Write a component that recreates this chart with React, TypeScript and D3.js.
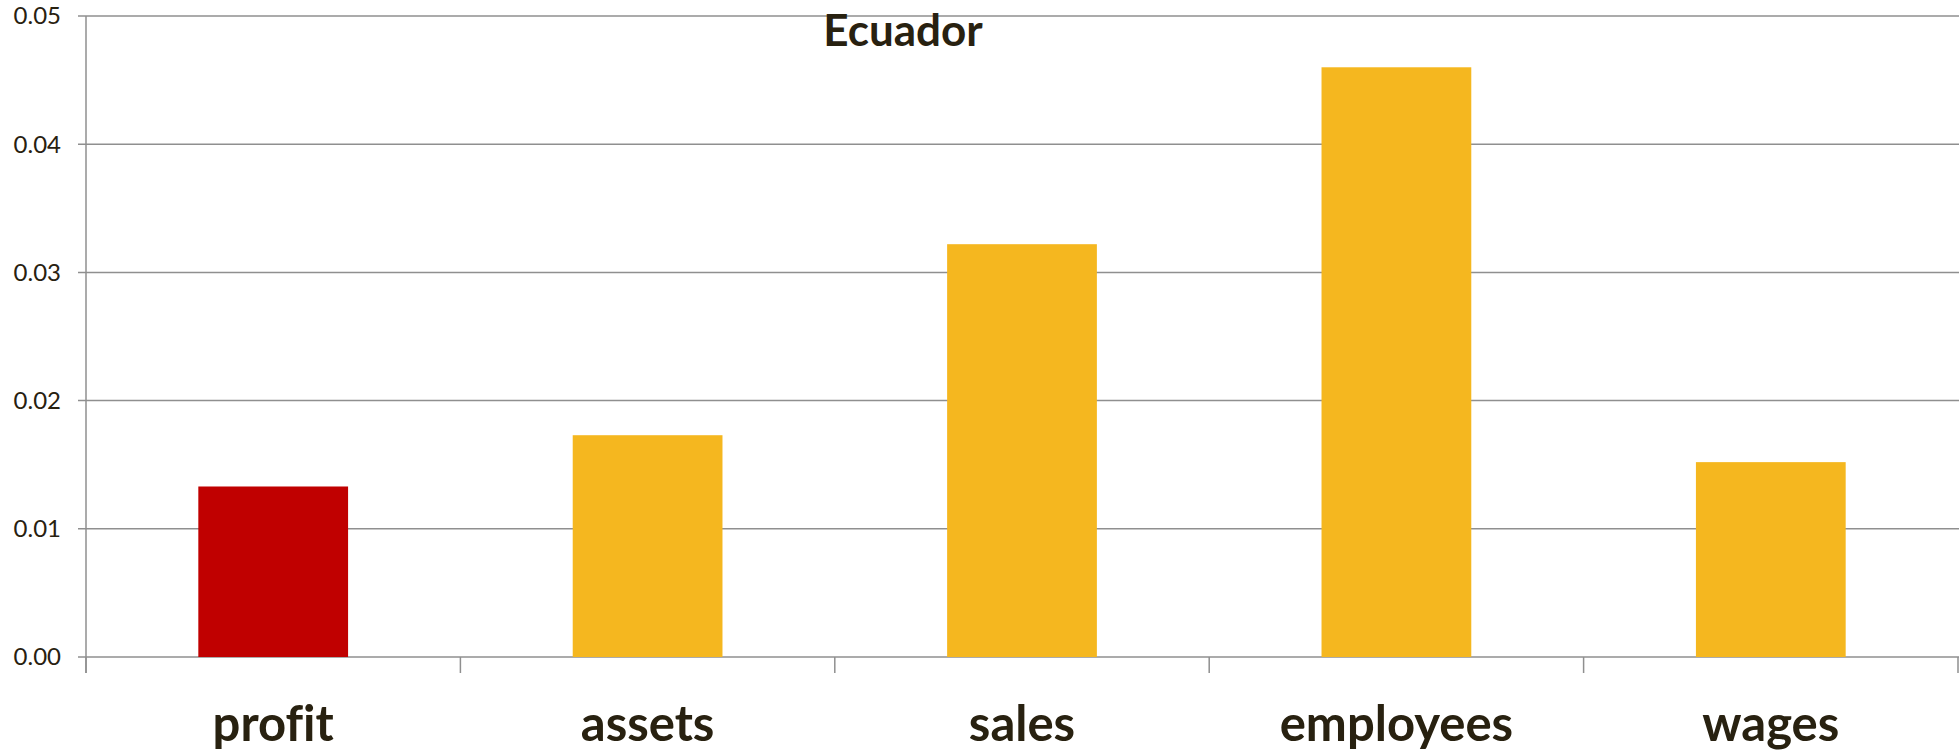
import React from 'react';
import * as d3 from 'd3';

const categories = ['profit', 'assets', 'sales', 'employees', 'wages'];
const values = [0.0133, 0.0173, 0.0322, 0.046, 0.0152];
const yTicks = [0, 0.01, 0.02, 0.03, 0.04, 0.05];
const title = 'Ecuador';

const W = 1959;
const H = 755;
const margin = { top: 16, right: 1, bottom: 98, left: 86 };
const ink = '#282110';
const gridColor = '#8f8f8f';
const font = "Lato, 'Open Sans', sans-serif";

export default function App() {
  const x = d3
    .scaleBand<string>()
    .domain(categories)
    .range([margin.left, W - margin.right])
    .paddingInner(0.6)
    .paddingOuter(0.3);
  const y = d3
    .scaleLinear()
    .domain([0, 0.05])
    .range([H - margin.bottom, margin.top]);

  const step = x.step();
  const boundaries = d3.range(categories.length + 1).map(i => margin.left + i * step);
  const fmt = d3.format('.2f');

  return (
    <svg
      width={W}
      height={H}
      style={{ position: 'absolute', left: 0, top: 0, background: '#fff' }}
    >
      {/* gridlines + y ticks */}
      {yTicks.map(t => (
        <g key={t}>
          <line x1={margin.left - 8} x2={W} y1={y(t)} y2={y(t)} stroke={gridColor} strokeWidth={1.5} />
          <text
            x={61}
            y={y(t)}
            dy="0.35em"
            textAnchor="end"
            fontFamily={font}
            fontSize={24}
            fill={ink}
          >
            {fmt(t)}
          </text>
        </g>
      ))}

      {/* bars */}
      {categories.map((c, i) => (
        <rect
          key={c}
          x={x(c)}
          y={y(values[i])}
          width={x.bandwidth()}
          height={y(0) - y(values[i])}
          fill={i === 0 ? '#c00000' : '#f5b71f'}
        />
      ))}

      {/* axes */}
      <line x1={margin.left} x2={margin.left} y1={margin.top} y2={y(0) + 16} stroke={gridColor} strokeWidth={1.5} />
      {boundaries.map((b, i) => (
        <line key={i} x1={b} x2={b} y1={y(0)} y2={y(0) + 16} stroke={gridColor} strokeWidth={1.5} />
      ))}

      {/* category labels */}
      {categories.map(c => (
        <text
          key={c}
          x={(x(c) ?? 0) + x.bandwidth() / 2}
          y={741}
          textAnchor="middle"
          fontFamily={font}
          fontWeight="bold"
          fontSize={49}
          fill={ink}
          style={{ fontVariantLigatures: 'none' }}
        >
          {c}
        </text>
      ))}

      <text
        x={903}
        y={46}
        textAnchor="middle"
        fontFamily={font}
        fontWeight="bold"
        fontSize={44}
        fill={ink}
      >
        {title}
      </text>
    </svg>
  );
}
